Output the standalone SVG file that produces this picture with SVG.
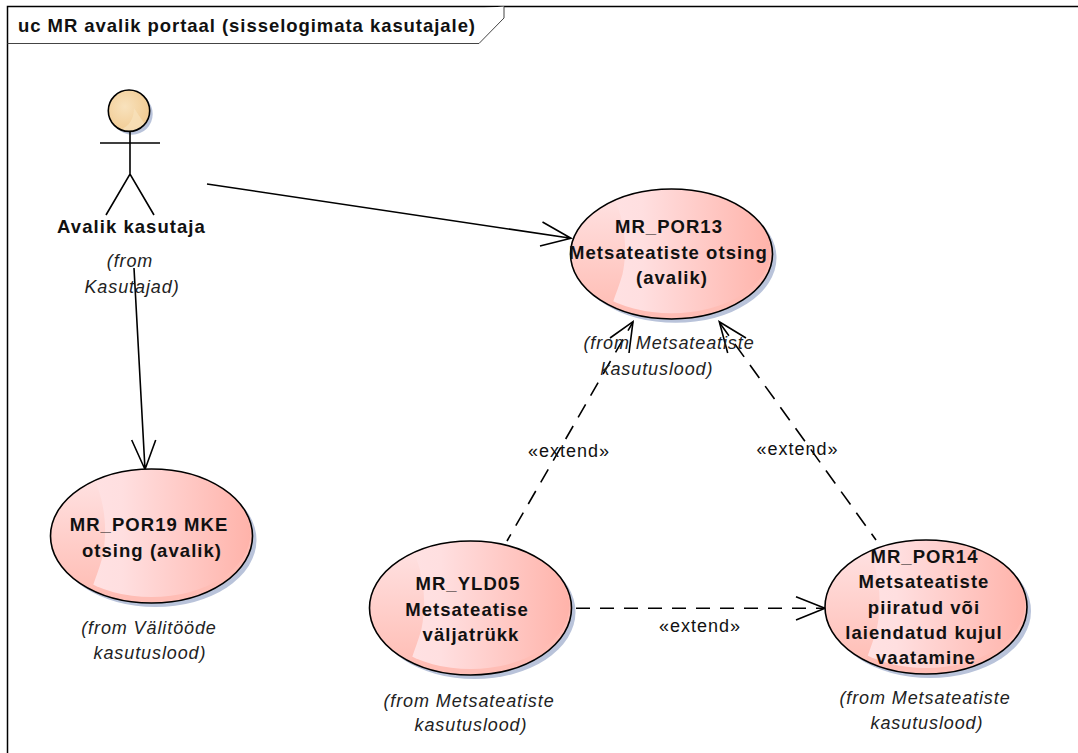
<svg xmlns="http://www.w3.org/2000/svg" width="1078" height="753" viewBox="0 0 1078 753">
<style>
.n{font:bold 18.500px "Liberation Sans",Arial,sans-serif;fill:#111;text-anchor:middle;letter-spacing:1.050px}
.f{font:italic 18px "Liberation Sans",Arial,sans-serif;fill:#222;text-anchor:middle;letter-spacing:.9px}
.l{font:18px "Liberation Sans",Arial,sans-serif;fill:#111;text-anchor:middle;letter-spacing:1px}
.c{fill:none;stroke:#000;stroke-width:1.600}
</style>
<defs>
<linearGradient id="ug"><stop offset="0" stop-color="#ffe4e6"/><stop offset=".35" stop-color="#ffdfe0"/><stop offset="1" stop-color="#ffb3aa"/></linearGradient>
<linearGradient id="cg" x2="0" y2="1"><stop offset="0" stop-color="#ffe4e5"/><stop offset="1" stop-color="#ffb8ae"/></linearGradient>
<radialGradient id="ag" cx=".4" cy=".4" r=".7"><stop offset="0" stop-color="#f8e2bd"/><stop offset="1" stop-color="#f1c88d"/></radialGradient>
<clipPath id="uc"><ellipse cx="0" cy="0" rx="101" ry="67"/></clipPath>
<clipPath id="ac"><circle cx="129" cy="110.700" r="20.700"/></clipPath>
<g id="usecase">
<ellipse cx="4" cy="4" rx="101" ry="67" fill="#b9c3da"/>
<ellipse cx="0" cy="0" rx="101" ry="67" fill="#ffbdb5"/>
<ellipse cx="0" cy="-3" rx="99" ry="64" fill="url(#ug)"/>
<path clip-path="url(#uc)" d="M-110-67H-62C-50-45-42-15-49 21C-52 32-56 42-59 51L-70 75H-110Z" fill="url(#cg)"/>
<ellipse cx="0" cy="0" rx="101" ry="67" fill="none" stroke="#000" stroke-width="1.600"/>
</g>
</defs>
<g id="frame">
<path d="M7.500 753V6.500H1078" fill="none" stroke="#000" stroke-width="1.500"/>
<path d="M7.500 43.500H479L504 18V6.500" fill="#fff" stroke="#444" stroke-width="1"/>
<text x="18" y="32" style="font:bold 18.500px 'Liberation Sans',Arial,sans-serif;letter-spacing:.95px" fill="#111">uc MR avalik portaal (sisselogimata kasutajale)</text>
</g>
<g id="connectors">
<path class="c" d="M207 184L571 238.300M542.500 222L571 238.300L540 246"/>
<path class="c" d="M134 268L145 469.500M131.700 440L145 469.500L155.700 440"/>
<path class="c" stroke-dasharray="15 10" stroke-dashoffset="5" d="M633 322L507 541"/>
<path class="c" d="M610 338L633 321.700L629 353"/>
<path class="c" stroke-dasharray="16 10" stroke-dashoffset="25" d="M719 322L876 540"/>
<path class="c" d="M727.700 353L719.300 321.700L746 338"/>
<path class="c" stroke-dasharray="14 10" d="M576 608.300H825"/>
<path class="c" d="M796 596.700L825 608.300L796 620"/>
<text class="l" x="569" y="456.500">«extend»</text>
<text class="l" x="797.500" y="454.500">«extend»</text>
<text class="l" x="700" y="632">«extend»</text>
</g>
<g id="actor">
<circle fill="#b9c3da" cx="132" cy="114" r="20.700"/>
<circle cx="129" cy="110.700" r="20.700" fill="url(#ag)"/>
<path clip-path="url(#ac)" d="M106 130H120C130 126 134 118 134 108L150 132Z" fill="#f8e2bd" opacity=".7"/>
<circle cx="129" cy="110.700" r="20.700" fill="none" stroke="#000" stroke-width="1.600"/>
<path class="c" d="M130 132V174M100 143H160M106 215L130 174L154 215"/>
<text class="n" x="131.500" y="233">Avalik kasutaja</text>
<text class="f" x="130" y="267">(from</text>
<text class="f" x="132" y="293">Kasutajad)</text>
</g>
<g id="por13">
<use href="#usecase" transform="translate(671.500 254) scale(1 .97)"/>
<text class="n" x="669" y="233">MR_POR13</text>
<text class="n" x="668.500" y="258.500">Metsateatiste otsing</text>
<text class="n" x="672" y="284">(avalik)</text>
<text class="f" x="669" y="349">(from Metsateatiste</text>
<text class="f" x="657" y="374.500">kasutuslood)</text>
</g>
<g id="por19">
<use href="#usecase" transform="translate(151.500 536)"/>
<text class="n" x="149" y="530.500">MR_POR19 MKE</text>
<text class="n" x="152" y="556.500">otsing (avalik)</text>
<text class="f" x="149" y="634">(from Välitööde</text>
<text class="f" x="150" y="659">kasutuslood)</text>
</g>
<g id="yld05">
<use href="#usecase" transform="translate(470.500 608)"/>
<text class="n" x="468" y="590">MR_YLD05</text>
<text class="n" x="467" y="615.500">Metsateatise</text>
<text class="n" x="471" y="640.500">väljatrükk</text>
<text class="f" x="469" y="707">(from Metsateatiste</text>
<text class="f" x="471" y="731">kasutuslood)</text>
</g>
<g id="por14">
<use href="#usecase" transform="translate(926 607)"/>
<text class="n" x="924.500" y="563">MR_POR14</text>
<text class="n" x="924" y="588">Metsateatiste</text>
<text class="n" x="924" y="613.500">piiratud või</text>
<text class="n" x="924" y="639">laiendatud kujul</text>
<text class="n" x="926" y="664">vaatamine</text>
<text class="f" x="925" y="704">(from Metsateatiste</text>
<text class="f" x="927" y="729">kasutuslood)</text>
</g>
</svg>
